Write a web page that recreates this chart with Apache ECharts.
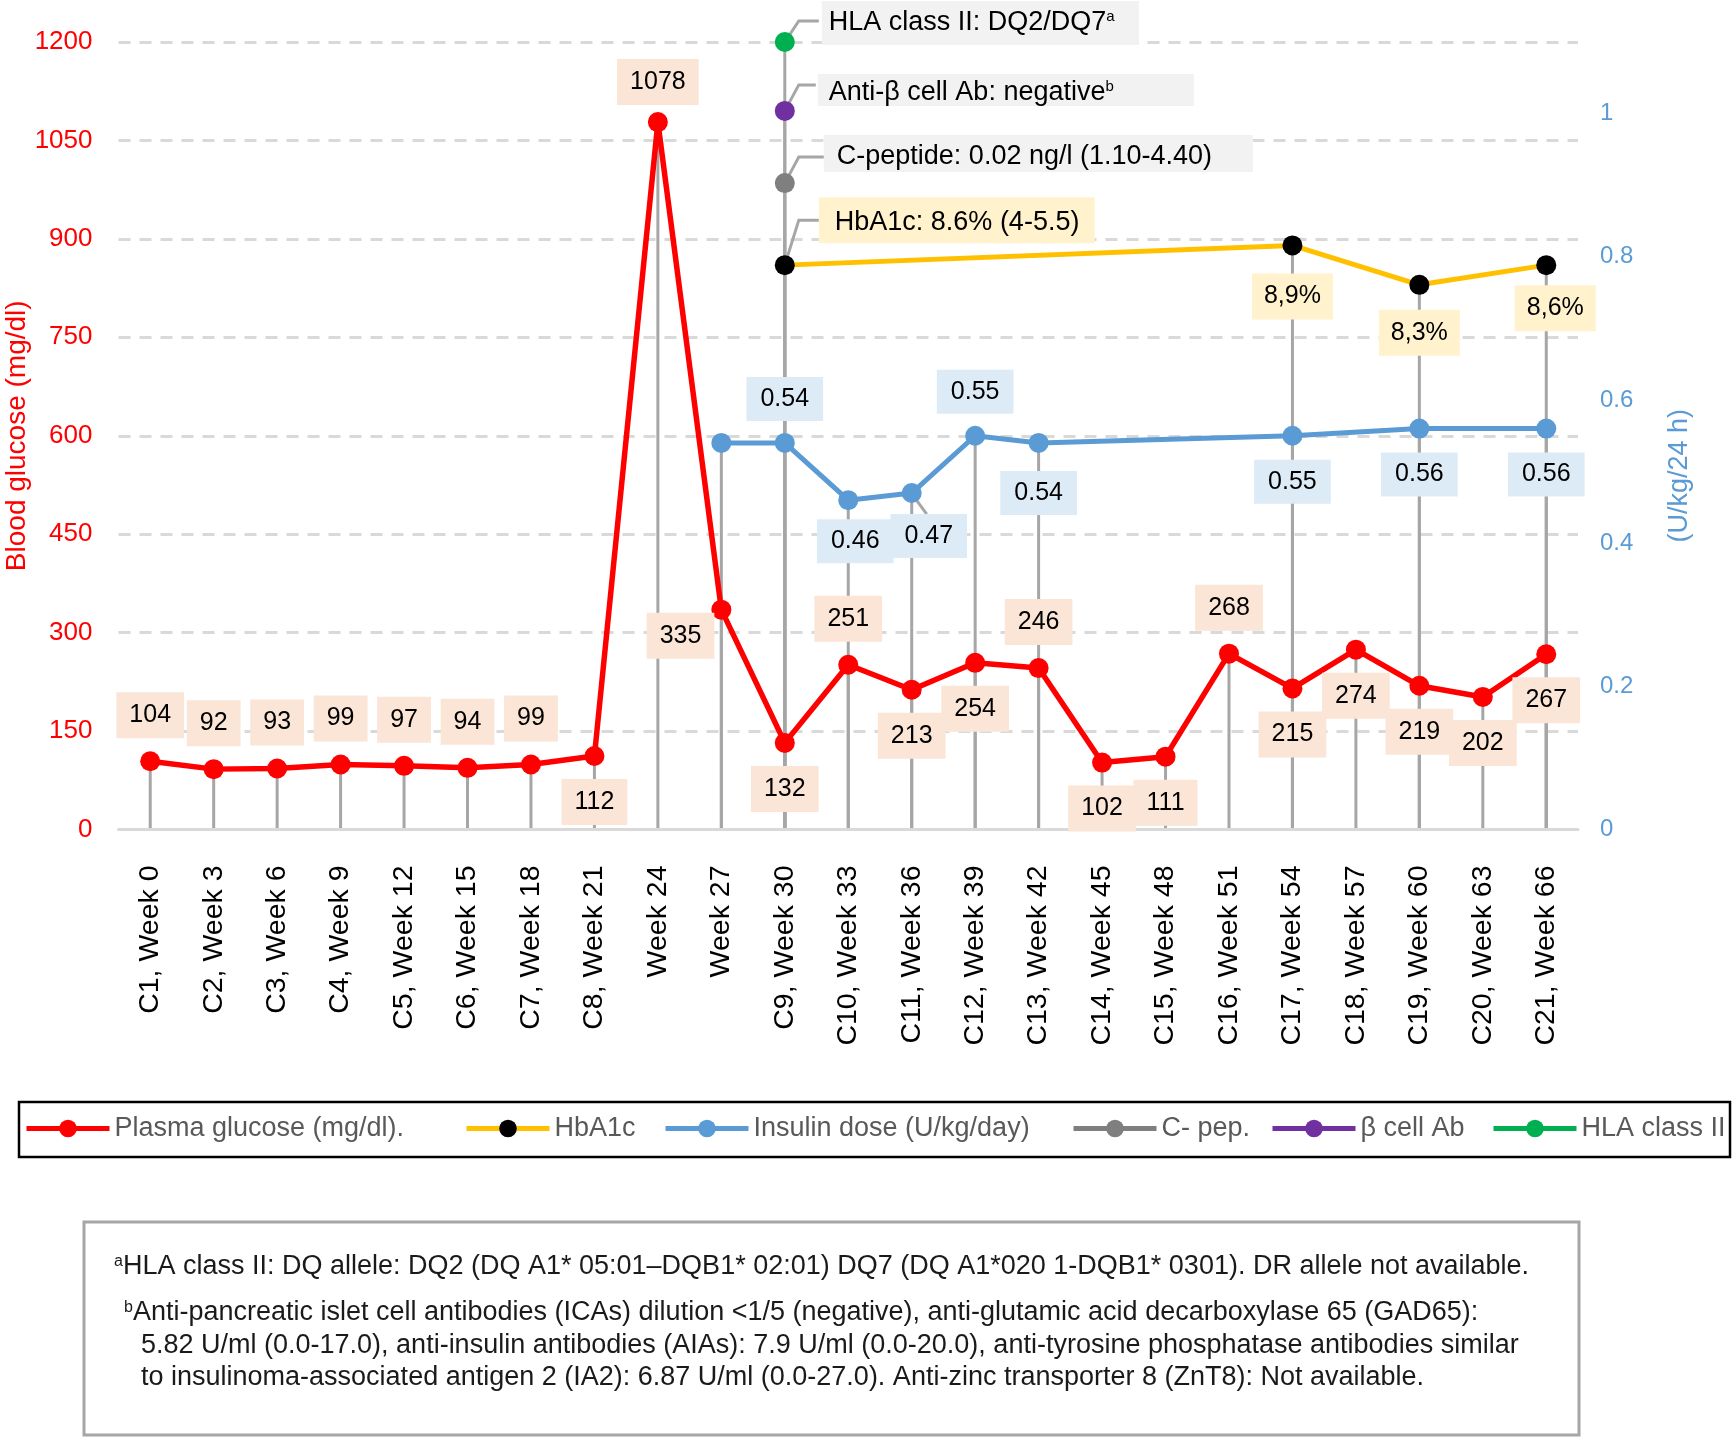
<!DOCTYPE html>
<html><head><meta charset="utf-8">
<script src="https://cdn.jsdelivr.net/npm/echarts@6/dist/echarts.min.js"></script>
<style>html,body{margin:0;padding:0;background:#fff}#c{width:1732px;height:1437px}</style>
</head><body><div id="c"></div>
<script>
const categories = ['C1, Week 0','C2, Week 3','C3, Week 6','C4, Week 9','C5, Week 12','C6, Week 15','C7, Week 18','C8, Week 21','Week 24','Week 27','C9, Week 30','C10, Week 33','C11, Week 36','C12, Week 39','C13, Week 42','C14, Week 45','C15, Week 48','C16, Week 51','C17, Week 54','C18, Week 57','C19, Week 60','C20, Week 63','C21, Week 66'];
const glucose = [104,92,93,99,97,94,99,112,1078,335,132,251,213,254,246,102,111,268,215,274,219,202,267];
const insulin = [null,null,null,null,null,null,null,null,null,0.54,0.54,0.46,0.47,0.55,0.54,null,null,null,0.55,null,0.56,null,0.56];
const hba1c = [null,null,null,null,null,null,null,null,null,null,8.6,null,null,null,null,null,null,null,8.9,null,8.3,null,8.6];
const cpepLevel = [null,null,null,null,null,null,null,null,null,null,985,null,null,null,null,null,null,null,null,null,null,null,null];
const betaAbLevel = [null,null,null,null,null,null,null,null,null,null,1095,null,null,null,null,null,null,null,null,null,null,null,null];
const hlaLevel = [null,null,null,null,null,null,null,null,null,null,1200,null,null,null,null,null,null,null,null,null,null,null,null];
const leftTicks = {min:0, max:1200, interval:150};
const rightTicks = {min:0, max:1.1, interval:0.2};

const FONT = "'Liberation Sans', Arial, Helvetica, sans-serif";
const C_RED = '#FF0000', C_BLUE = '#5B9BD5', C_YEL = '#FFC000', C_GREY = '#7F7F7F', C_PUR = '#7030A0', C_GRN = '#00B050';
const STEM = '#A6A6A6';

// label placement (layout only)
const gSide = ['top','top','top','top','top','top','top','bottom','top','left','bottom','top','bottom','bottom','top','bottom','bottom','top','bottom','bottom','bottom','bottom','bottom'];
const insLab = {9:{show:false},10:{position:'top',distance:12},11:{position:'bottom',distance:9,offset:[7,0]},12:{position:'bottom',distance:11,offset:[17,0]},13:{position:'top',distance:12},14:{position:'bottom',distance:18},18:{position:'bottom',distance:14},20:{position:'bottom',distance:14},22:{position:'bottom',distance:14}};
const hbLab = {10:{show:false},18:{position:'bottom',distance:18},20:{position:'bottom',distance:15},22:{position:'bottom',distance:10,offset:[9,0]}};

const glucoseData = glucose.map((v,i)=>{
  const s = gSide[i];
  const lab = {position:s, distance: i===8 ? 7 : 13};
  if (s==='left') { lab.distance = -3; lab.offset = [0,26]; }
  return {value:v, label:lab};
});
const insulinData = insulin.map((v,i)=> v==null ? null : {value:v, label: insLab[i] || {}});
const hbData = hba1c.map((v,i)=> v==null ? null : {value:v, label: hbLab[i] || {}});

const baseLabel = (bg)=>({show:true, color:'#000', fontFamily:FONT, fontSize:25, lineHeight:26, backgroundColor:bg, padding:[10,13]});

function stem(name, data, yIdx){
  return {name:name, type:'bar', yAxisIndex:yIdx, data:data, barWidth:3, barGap:'-100%', z:1,
    itemStyle:{color:STEM}, silent:true, legendHoverLink:false, animation:false};
}
function marker(name, data, color){
  return {name:name, type:'line', yAxisIndex:0, data:data, symbol:'circle', symbolSize:20, z:5,
    itemStyle:{color:color}, lineStyle:{color:color, width:5}, label:{show:false}, animation:false};
}

const chart = echarts.init(document.getElementById('c'));
const legendBase = {top:1115, padding:0, itemWidth:83, itemHeight:22, itemGap:10,
  lineStyle:{width:5},
  textStyle:{fontFamily:FONT, fontSize:27, color:'#595959'}};
const legendNames = ['Plasma glucose (mg/dl).','HbA1c','Insulin dose (U/kg/day)','C- pep.','β cell Ab','HLA class II'];
const legendLefts = [24,464,663,1071,1270,1491];

chart.setOption({
  backgroundColor:'#fff',
  animation:false,
  grid:{left:118.5, right:154, top:42, bottom:607.5, outerBoundsMode:'none', containLabel:false},
  legend: legendNames.map((n,i)=>Object.assign({}, legendBase, {data:[n], left:legendLefts[i]})),
  xAxis:{type:'category', data:categories, boundaryGap:true,
    axisLine:{show:true, lineStyle:{color:'#D9D9D9', width:3}}, axisTick:{show:false},
    axisLabel:{rotate:90, margin:36, interval:0, color:'#000', fontFamily:FONT, fontSize:28.5},
    splitLine:{show:false}, z:3},
  yAxis:[
    {type:'value', min:leftTicks.min, max:leftTicks.max, interval:leftTicks.interval,
     name:'Blood glucose (mg/dl)', nameLocation:'middle', nameGap:87, nameRotate:90, nameMoveOverlap:false,
     nameTextStyle:{color:C_RED, fontFamily:FONT, fontSize:28},
     axisLine:{show:false}, axisTick:{show:false},
     axisLabel:{color:C_RED, fontFamily:FONT, fontSize:26, margin:26, formatter:(v)=>String(v)},
     splitLine:{show:true, lineStyle:{color:'#D9D9D9', width:3, type:[12,9]}}},
    {type:'value', position:'right', min:rightTicks.min, max:rightTicks.max, interval:rightTicks.interval,
     name:'(U/kg/24 h)', nameLocation:'middle', nameGap:88, nameRotate:90, nameMoveOverlap:false,
     nameTextStyle:{color:C_BLUE, fontFamily:FONT, fontSize:27, padding:[0,80,0,0]},
     axisLine:{show:false}, axisTick:{show:false},
     axisLabel:{color:C_BLUE, fontFamily:FONT, fontSize:24, margin:22,
       formatter:(v)=> v>1.05 ? '' : String(+(+v).toFixed(1))},
     splitLine:{show:false}},
    {type:'value', show:false, min:0, max:12}
  ],
  series:[
    stem('s_g', glucose, 0),
    stem('s_i', insulin, 1),
    stem('s_h', hba1c, 2),
    stem('s_c', cpepLevel, 0),
    stem('s_b', betaAbLevel, 0),
    stem('s_l', hlaLevel, 0),
    {name:'Insulin dose (U/kg/day)', type:'line', yAxisIndex:1, data:insulinData, connectNulls:true,
     symbol:'circle', symbolSize:20, z:4, itemStyle:{color:C_BLUE}, lineStyle:{color:C_BLUE, width:5},
     label:Object.assign(baseLabel('#DDEBF7'), {padding:[9,14], formatter:(p)=>(+p.value).toFixed(2)})},
    {name:'HbA1c', type:'line', yAxisIndex:2, data:hbData, connectNulls:true,
     symbol:'circle', symbolSize:20, z:4, itemStyle:{color:'#000'}, lineStyle:{color:C_YEL, width:5},
     label:Object.assign(baseLabel('#FFF2CC'), {padding:[10,12], formatter:(p)=>String(p.value).replace('.',',')+'%'})},
    {name:'Plasma glucose (mg/dl).', type:'line', yAxisIndex:0, data:glucoseData,
     symbol:'circle', symbolSize:20, z:5, itemStyle:{color:C_RED}, lineStyle:{color:C_RED, width:5.5},
     label:baseLabel('#FBE5D6')},
    marker('C- pep.', cpepLevel, C_GREY),
    marker('β cell Ab', betaAbLevel, C_PUR),
    marker('HLA class II', hlaLevel, C_GRN)
  ]
});

// annotations on the C9 markers, anchored via the axes
const annos = [
  {arr:hlaLevel, axis:0, text:'HLA class II: DQ2/DQ7{s|a}', bg:'#F2F2F2', bx:37, by:-41, bw:317, bh:44, tx:44, ty:-19, ly:-21, lx:34},
  {arr:betaAbLevel, axis:0, text:'Anti-β cell Ab: negative{s|b}', bg:'#F2F2F2', bx:33, by:-37, bw:376, bh:32, tx:44, ty:-18, ly:-26, lx:31},
  {arr:cpepLevel, axis:0, text:'C-peptide: 0.02 ng/l (1.10-4.40)', bg:'#F2F2F2', bx:39, by:-48, bw:429, bh:37, tx:52, ty:-27, ly:-26, lx:39},
  {arr:hba1c, axis:2, text:'HbA1c: 8.6% (4-5.5)', bg:'#FFF2CC', bx:34, by:-68, bw:276, bh:46, tx:50, ty:-43, ly:-45, lx:34}
];
const g = [];
annos.forEach((a,k)=>{
  const i = a.arr.findIndex(v=>v!=null);
  const p = chart.convertToPixel({xAxisIndex:0, yAxisIndex:a.axis}, [i, a.arr[i]]);
  g.push({type:'rect', z:0, shape:{x:p[0]+a.bx, y:p[1]+a.by, width:a.bw, height:a.bh}, style:{fill:a.bg}});
  g.push({type:'polyline', z:1, shape:{points:[[p[0],p[1]],[p[0]+14,p[1]+a.ly],[p[0]+a.lx,p[1]+a.ly]]}, style:{stroke:STEM, lineWidth:3, fill:null}});
  g.push({type:'text', z:2, style:{x:p[0]+a.tx, y:p[1]+a.ty, text:a.text, fill:'#000', font:'27px '+FONT, verticalAlign:'middle',
    rich:{s:{fontSize:15, fontFamily:FONT, verticalAlign:'top', fill:'#000'}}}});
});
// leader of the 0.47 label
(function(){
  const i = 12;
  const p = chart.convertToPixel({xAxisIndex:0, yAxisIndex:1}, [i, insulin[i]]);
  g.push({type:'line', z:1, shape:{x1:p[0]+4, y1:p[1]+6, x2:p[0]+15, y2:p[1]+21}, style:{stroke:STEM, lineWidth:3}});
})();
// legend frame
g.push({type:'rect', z:0, shape:{x:19, y:1102, width:1711, height:55}, style:{fill:null, stroke:'#000', lineWidth:2.5}});
// footnote
g.push({type:'rect', z:0, shape:{x:84, y:1222, width:1495, height:213}, style:{fill:'#fff', stroke:'#A6A6A6', lineWidth:3}});
const foot = [
  {x:114, y:1267, t:'{s|a}HLA class II: DQ allele: DQ2 (DQ A1* 05:01–DQB1* 02:01) DQ7 (DQ A1*020 1-DQB1* 0301). DR allele not available.'},
  {x:124, y:1313, t:'{s|b}Anti-pancreatic islet cell antibodies (ICAs) dilution <1/5 (negative), anti-glutamic acid decarboxylase 65 (GAD65):'},
  {x:141, y:1346, t:'5.82 U/ml (0.0-17.0), anti-insulin antibodies (AIAs): 7.9 U/ml (0.0-20.0), anti-tyrosine phosphatase antibodies similar'},
  {x:141, y:1378, t:'to insulinoma-associated antigen 2 (IA2): 6.87 U/ml (0.0-27.0). Anti-zinc transporter 8 (ZnT8): Not available.'}
];
foot.forEach(f=>g.push({type:'text', z:2, style:{x:f.x, y:f.y, text:f.t, fill:'#1a1a1a', font:'27px '+FONT, verticalAlign:'middle',
  rich:{s:{fontSize:16, fontFamily:FONT, verticalAlign:'top', fill:'#1a1a1a'}}}}));
chart.setOption({graphic:g});
</script></body></html>
